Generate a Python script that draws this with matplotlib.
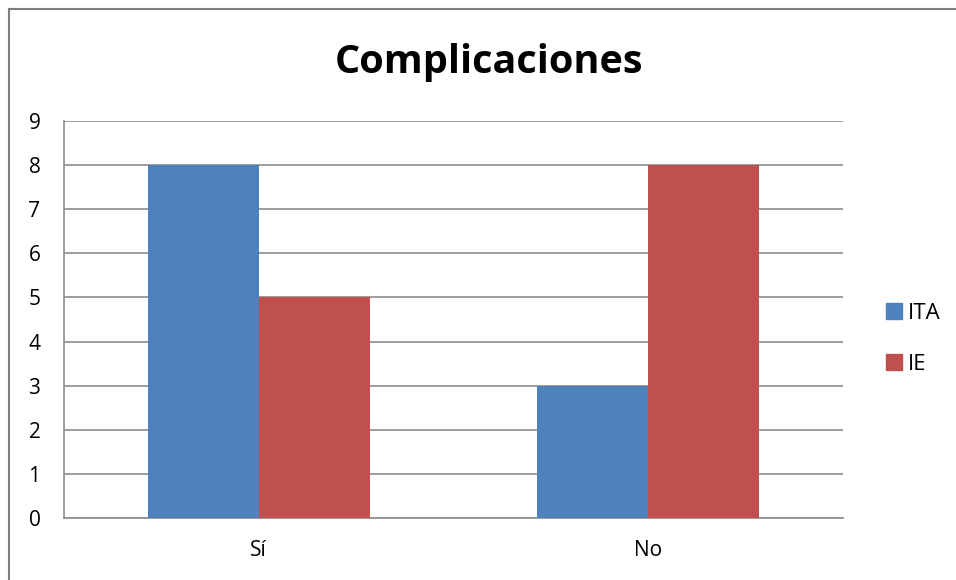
import matplotlib.pyplot as plt
from matplotlib.lines import Line2D
import numpy as np

categories = ["Sí", "No"]
ita = [8, 3]
ie = [5, 8]
series_names = ["ITA", "IE"]

plt.rcParams['font.family'] = ['Open Sans', 'DejaVu Sans']

fig = plt.figure(figsize=(9.56, 5.8), dpi=100)
ax = fig.add_axes([64/956, 62/580, (843-64)/956, (518-121)/580])

x = np.arange(len(categories))
w = 0.285
ax.bar(x - w/2, ita, w, color='#4F81BD', label=series_names[0], zorder=3)
ax.bar(x + w/2, ie, w, color='#C0504D', label=series_names[1], zorder=3)

ax.set_xlim(-0.5, 1.5)
ax.set_ylim(0, 9)
ax.set_yticks(range(10))
ax.set_xticks(x)
ax.set_xticklabels(categories)
ax.tick_params(axis='both', length=0, labelsize=15)
ax.tick_params(axis='x', pad=16)
ax.tick_params(axis='y', pad=17)
ax.grid(axis='y', color='#8c8c8c', linewidth=1.2, zorder=0)
for s in ['top', 'right']:
    ax.spines[s].set_visible(False)
for s in ['left', 'bottom']:
    ax.spines[s].set_color('#8c8c8c')
    ax.spines[s].set_linewidth(1.2)

fig.text(489/956, 1 - 62/580, "Complicaciones", ha='center', va='center',
         fontsize=28.5, fontweight='bold')

handles = [Line2D([], [], marker='s', linestyle='none', markersize=11,
                  color='#4F81BD'),
           Line2D([], [], marker='s', linestyle='none', markersize=11,
                  color='#C0504D')]
fig.legend(handles, series_names, loc='center left',
           bbox_to_anchor=(885/956, 1 - 339/580), frameon=False, fontsize=16,
           handlelength=0.8, handletextpad=0.25, labelspacing=1.35,
           borderaxespad=0, borderpad=0)

# chart-area frame: only top and left edges fall inside the image
fig.add_artist(Line2D([9/956, 9/956], [0, 1 - 9/580], color='#7f7f7f',
                      linewidth=1.5, transform=fig.transFigure))
fig.add_artist(Line2D([9/956, 1], [1 - 9/580, 1 - 9/580], color='#7f7f7f',
                      linewidth=1.5, transform=fig.transFigure))

fig.savefig("out.png", dpi=100)
